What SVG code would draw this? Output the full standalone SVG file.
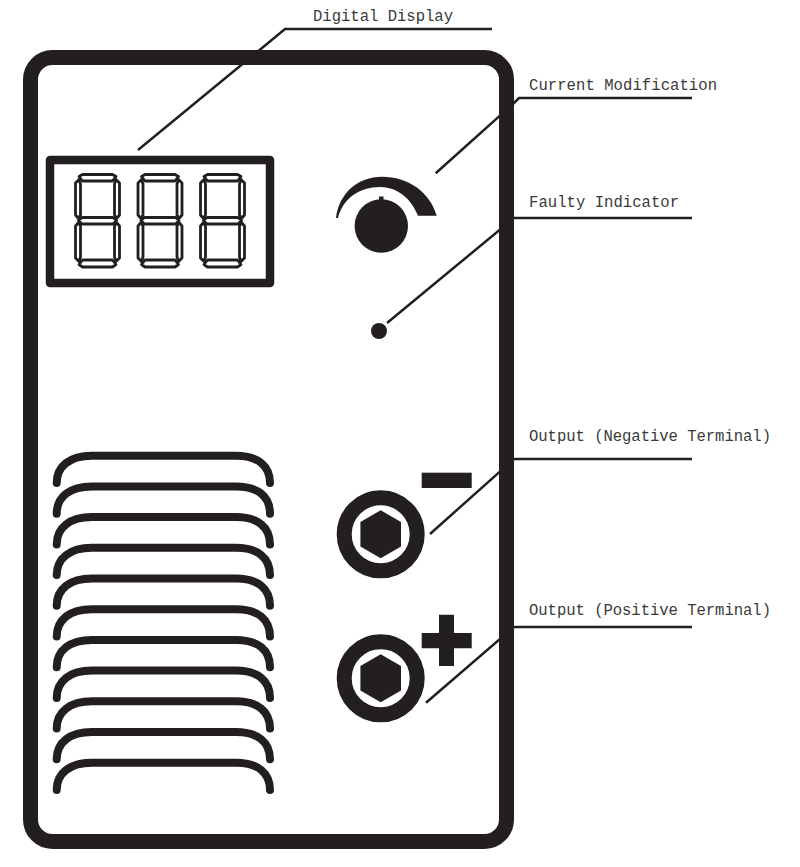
<svg xmlns="http://www.w3.org/2000/svg" xmlns:xlink="http://www.w3.org/1999/xlink" width="800" height="867" viewBox="0 0 800 867">
<style>
.k{fill:#231f20}
.vent{fill:none;stroke:#231f20;stroke-width:8;stroke-linecap:round}
.seg{fill:#fff;stroke:#231f20;stroke-width:2.8;stroke-linejoin:round}
.lab{font-family:"Liberation Mono",monospace;font-size:15.6px;fill:#3a3a3a}
</style>
<defs>
<g id="digit">
<path class="seg" d="M8.500 1.500H38.500L42 3.500L38.500 8H8.500L5 3.500Z"/>
<path class="seg" d="M8 44.500H39L42.500 47.500L39 51H8L4.500 47.500Z"/>
<path class="seg" d="M8.500 87H38.500L42 91.500L38.500 94H8.500L5 91.500Z"/>
<path class="seg" d="M1.500 10L5 6.500L6.500 11V42L4.500 45.500L1.500 42Z"/>
<path class="seg" d="M45.500 10L42 6.500L40.500 11V42L42.500 45.500L45.500 42Z"/>
<path class="seg" d="M1.500 53L4.500 49.500L6.500 53V84L5 88.500L1.500 85Z"/>
<path class="seg" d="M45.500 53L42.500 49.500L40.500 53V84L42 88.500L45.500 85Z"/>
</g>
<path id="v" class="vent" d="M56.700 483C56.700 466 70 455.700 92 455.700H236C258 455.700 270 466 270 483"/>
<path id="hex" class="k" d="M0-24L20.300-12.300V12.300L0 24L-20.300 12.300V-12.300Z"/>
</defs>
<g id="connectors" fill="none" stroke="#231f20" stroke-width="2.500">
<path d="M138 150L285 29H492"/>
<path d="M435.700 173.300L514 103L519 98H692"/>
<path d="M387 323L514 218H692"/>
<path d="M430 534L514 459H692"/>
<path d="M426 702.700L514 627H692"/>
</g>
<g id="panel"><rect x="30.500" y="57.500" width="476" height="784" rx="22" fill="none" stroke="#231f20" stroke-width="15"/></g>
<g id="display">
<rect x="50" y="160" width="220" height="123" fill="#fff" stroke="#231f20" stroke-width="8.500" stroke-linejoin="round"/>
<use xlink:href="#digit" href="#digit" x="74" y="173"/>
<use xlink:href="#digit" href="#digit" x="136.500" y="173"/>
<use xlink:href="#digit" href="#digit" x="199" y="173"/>
</g>
<g id="knob">
<path class="k" d="M336 218C339 193 358 176.700 382 176.700C408 176.700 430 192 436.700 215.700H418C411 198 397 187 380 187C360 187 343 198 338 218Z"/>
<circle class="k" cx="381.300" cy="226" r="26.700"/>
<rect class="k" x="379" y="196.500" width="4.500" height="5"/>
</g>
<g id="indicator"><circle class="k" cx="379" cy="331" r="8"/></g>
<g id="vents">
<use xlink:href="#v" href="#v"/>
<use xlink:href="#v" href="#v" y="30.700"/>
<use xlink:href="#v" href="#v" y="61.400"/>
<use xlink:href="#v" href="#v" y="92.100"/>
<use xlink:href="#v" href="#v" y="122.800"/>
<use xlink:href="#v" href="#v" y="153.500"/>
<use xlink:href="#v" href="#v" y="184.200"/>
<use xlink:href="#v" href="#v" y="214.900"/>
<use xlink:href="#v" href="#v" y="245.600"/>
<use xlink:href="#v" href="#v" y="276.300"/>
<use xlink:href="#v" href="#v" y="307"/>
</g>
<g id="terminal-negative">
<circle cx="380.700" cy="534.300" r="36.500" fill="#fff" stroke="#231f20" stroke-width="15"/>
<use xlink:href="#hex" href="#hex" x="380.700" y="534.300"/>
<rect class="k" x="421.700" y="472.700" width="50" height="15.300"/>
</g>
<g id="terminal-positive">
<circle cx="380.700" cy="678.300" r="36.500" fill="#fff" stroke="#231f20" stroke-width="15"/>
<use xlink:href="#hex" href="#hex" x="380.700" y="678.300"/>
<path class="k" d="M439 614.700H454V633H471.700V648.300H454V666H439V648.300H421.700V633H439Z"/>
</g>
<g id="labels">
<text class="lab" x="313" y="21" textLength="140" lengthAdjust="spacing">Digital Display</text>
<text class="lab" x="529" y="90" textLength="188" lengthAdjust="spacing">Current Modification</text>
<text class="lab" x="529" y="207" textLength="150" lengthAdjust="spacing">Faulty Indicator</text>
<text class="lab" x="529" y="441" textLength="242" lengthAdjust="spacing">Output (Negative Terminal)</text>
<text class="lab" x="529" y="615" textLength="242" lengthAdjust="spacing">Output (Positive Terminal)</text>
</g>
</svg>
